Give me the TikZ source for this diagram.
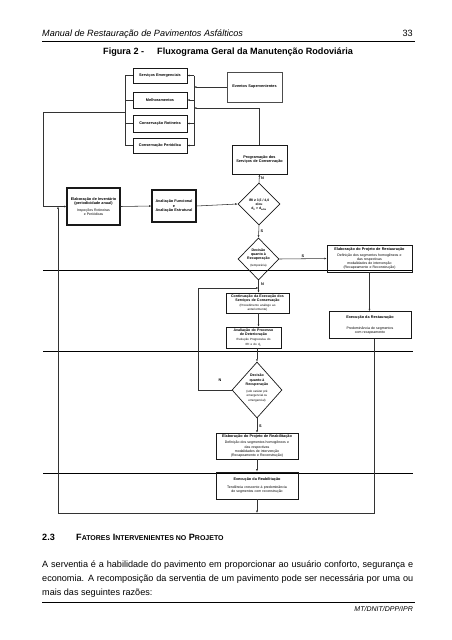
\documentclass[tikz,border=0pt]{standalone}
\usepackage{fontspec}
\setmainfont{Liberation Sans}
\usetikzlibrary{arrows.meta,shapes.geometric}
\newcommand{\fa}{\fontsize{3.5}{4.2}\selectfont\mdseries}
\newcommand{\fb}{\fontsize{3.8}{4.3}\selectfont\bfseries}
\newcommand{\fc}{\fontsize{3}{3.5}\selectfont\mdseries}
\newcommand{\fd}{\fontsize{3.6}{3.9}\selectfont\bfseries}
\newcommand{\ftxt}{\fontsize{9.1}{14}\selectfont}
\newcommand{\scsz}{\fontsize{7}{14}\selectfont}
\begin{document}
\begin{tikzpicture}[x=1pt,y=-1pt,
  bx/.style={draw=black!90, line width=0.6pt, inner sep=0pt, align=center, font=\fa},
  tbx/.style={bx, line width=1.1pt},
  dm/.style={draw=black!90, diamond, inner sep=0pt, line width=0.7pt},
  cn/.style={draw=black!80, line width=0.55pt},
  arr/.style={cn, -{Latex[length=2.4pt,width=2pt]}},
  lbl/.style={font=\fb, inner sep=0pt},
  txt/.style={inner sep=0pt, font=\ftxt}]
\useasboundingbox (0,0) rectangle (452,640);
\fill[white] (0,0) rectangle (452,640);

% header
\node[txt, anchor=base west, font=\ftxt\itshape] (hdr) at (42,36) {Manual de Restauração de Pavimentos Asfálticos};
\node[txt, anchor=base east] (pg) at (413,36) {33};
\draw[line width=0.9pt] (42,41.5) -- (415,41.5);
\node[txt, anchor=base west, font=\ftxt\bfseries] (fig) at (103,54.5) {Figura 2 -};
\node[txt, anchor=base west, font=\ftxt\bfseries] (tit) at (157,54.5) {Fluxograma Geral da Manutenção Rodoviária};

% scan lines
\draw[line width=0.8pt] (43,270.5) -- (413,270.5);
\draw[line width=0.8pt] (43,351) -- (413,351);
\draw[line width=0.8pt] (43,473) -- (413,473);

% left group
\node[bx, text width=54pt, minimum height=15pt] (se) at (160,75.5) {\fb Serviços Emergenciais};
\node[bx, text width=54pt, minimum height=16pt] (me) at (160,100) {\fb Melhoramentos};
\node[bx, text width=54pt, minimum height=17pt] (cr) at (160,123.5) {\fb Conservação Rotineira};
\node[bx, text width=54pt, minimum height=15pt] (cp) at (160,145.5) {\fb Conservação Periódica};
\node[bx, draw=black!70, text width=55pt, minimum height=30pt] (ev) at (254.5,87) {\fb Eventos Supervenientes};
\node[bx, text width=55pt, minimum height=29pt] (pr) at (259.5,159.5) {\fb Programação dos\\Serviços de Conservação};

\node[tbx, text width=53pt, minimum height=37pt] (inv) at (93.5,206.5) {\fb Elaboração de Inventário\\(periodicidade anual)\\[3pt]\fa Inspeções Rotineiras\\e Periódicas};
\node[tbx, text width=44pt, minimum height=32pt] (av) at (174,206) {\fb Avaliação Funcional\\e\\Avaliação Estrutural};

\node[dm, minimum width=42pt, minimum height=42pt] (d1) at (259,204) {};
\node[lbl, align=center, font=\fontsize{3.4}{4.2}\selectfont\bfseries] (d1t) at (259,204.5) {IRI ≥ 3,5 / 4,0\\e/ou\\d\textsubscript{0} > d\textsubscript{adm}};
\node[dm, minimum width=41pt, minimum height=42pt] (d2) at (258.5,259) {};
\node[lbl, align=center] (d2t) at (258.5,258) {\fd Decisão\\\fd quanto à\\\fd Recuperação\\[3pt]\fc (temporária)};

\node[bx, text width=85pt, minimum height=27pt] (er) at (369.5,258.5) {\fb Elaboração do Projeto de Restauração\\[2pt]\fa Definição dos segmentos homogêneos e\\das respectivas\\modalidades de intervenção\\(Recapeamento e Reconstrução)};
\node[bx, text width=82pt, minimum height=27pt] (xr) at (370,325) {\fb Execução da Restauração\\[6pt]\fa Predominância de segmentos\\com recapeamento};

\node[bx, text width=63pt, minimum height=20pt] (co) at (257.5,303) {\fd Continuação da Execução dos\\Serviços de Conservação\\[1.5pt]\fc (Procedimento análogo ao\\anteriormente)};
\node[bx, text width=55pt, minimum height=21pt] (ap) at (253.5,337.5) {\fd Avaliação do Processo\\de Deterioração\\[2pt]\fc Evolução Progressiva do\\IRI e do d\textsubscript{0}};

\node[dm, minimum width=50pt, minimum height=56pt] (d3) at (257,390) {};
\node[lbl, align=center] (d3t) at (257,388) {\fd Decisão\\\fd quanto à\\\fd Recuperação\\[3pt]\fc (sob caráter pré\\\fc emergencial ou\\\fc emergencial)};

\node[bx, text width=82pt, minimum height=26pt] (rj) at (257,446) {\fb Elaboração do Projeto de Reabilitação\\[2pt]\fa Definição dos segmentos homogêneos e\\das respectivas\\modalidades de intervenção\\(Recapeamento e Reconstrução)};
\node[tbx, line width=0.8pt, text width=82pt, minimum height=27pt] (xb) at (257,485.5) {\fb Execução da Reabilitação\\[3.5pt]\fa Tendência crescente à predominância\\de segmentos com reconstrução};

% coordinates
\coordinate (lbk) at (125,0);
\coordinate (rbk) at (194,0);
\coordinate (lj) at (125,112);
\coordinate (lo) at (43,112);
\coordinate (pj) at (259.5,108);
\coordinate (br) at (374,513);
\coordinate (bl) at (58,513);
\coordinate (lp) at (198,288);
\coordinate (lq) at (198,390);

% left bracket
\draw[cn] (se.west) -- (se.west -| lbk) -- (cp.west -| lbk) -- (cp.west);
\draw[cn] (me.west) -- (me.west -| lbk);
\draw[cn] (cr.west) -- (cr.west -| lbk);
\draw[arr] (lj) -- (lo) |- (inv.west);

% right bracket
\draw[cn] (se.east -| rbk) -- (cp.east -| rbk);
\draw[arr] (se.east -| rbk) -- (se.east);
\draw[arr] (me.east -| rbk) -- (me.east);
\draw[arr] (cr.east -| rbk) -- (cr.east);
\draw[arr] (cp.east -| rbk) -- (cp.east);
\draw[arr] (ev.west) -- (ev.west -| rbk);
\draw[arr] (pr.north) -- (pj) -- (pj -| rbk);

% main flow
\draw[arr] (inv.east) -- (av.west);
\draw[arr] (av.east) -- (d1.west);
\draw[arr] (d1.north) -- (pr.south);
\node[lbl] (n1) at (262.5,178.5) {N};
\draw[arr] (d1.south) -- (d2.north);
\node[lbl] (s1) at (262,231) {S};
\draw[arr] (d2.east) -- (er.west);
\node[lbl] (s2) at (303,256) {S};
\draw[arr] (d2.south) -- (co.north -| d2.south);
\node[lbl] (n2) at (262.5,284) {N};
\draw[arr] (er.south) -- (xr.north -| er.south);
\draw[arr] (co.south -| d2.south) -- (ap.north -| d2.south);
\draw[arr] (ap.south -| d3.north) -- (d3.north);
\draw[arr] (d3.west) -- (lq) -- (lp) -- (lp -| d2.south);
\node[lbl] (n3) at (220,380) {N};
\draw[arr] (d3.south) -- (rj.north);
\node[lbl] (s3) at (260.5,426) {S};
\draw[arr] (rj.south) -- (xb.north);
\draw[arr] (xb.south) -- (xb.south |- br);
\draw[cn] (xr.south -| br) -- (br) -- (bl);
\draw[arr] (bl) -- (bl |- inv.west);

% text body
\node[txt, anchor=base west, font=\ftxt\bfseries] (sec) at (42,540.5) {2.3};
\node[txt, anchor=base west, font=\ftxt\bfseries] (sect) at (76,540.5) {F{\scsz ATORES} I{\scsz NTERVENIENTES NO} P{\scsz ROJETO}};
\node[txt, anchor=base west] (p1) at (42,567.5) {\makebox[371pt][s]{A serventia é a habilidade do pavimento em proporcionar ao usuário conforto, segurança e}};
\node[txt, anchor=base west] (p2) at (42,581.5) {\makebox[371pt][s]{economia. A recomposição da serventia de um pavimento pode ser necessária por uma ou}};
\node[txt, anchor=base west] (p3) at (42,595.5) {mais das seguintes razões:};
\draw[line width=0.9pt] (42,602) -- (415,602);
\node[txt, anchor=base east, font=\fontsize{7}{9}\selectfont\itshape] (ft) at (413,611.5) {MT/DNIT/DPP/IPR};
\end{tikzpicture}
\end{document}
